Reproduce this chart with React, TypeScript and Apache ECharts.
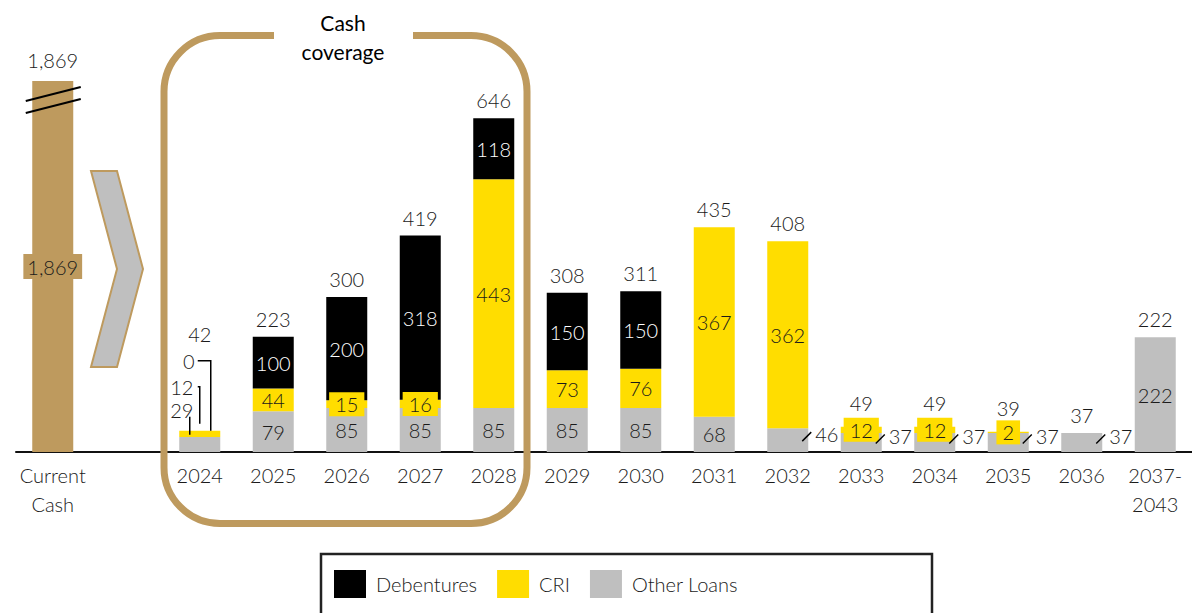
import React, { useEffect, useRef } from 'react';
import * as echarts from 'echarts';

// ---------- data ----------
const categories = ['Current\nCash', '', '2024', '2025', '2026', '2027', '2028', '2029', '2030', '2031', '2032', '2033', '2034', '2035', '2036', '2037-\n2043'];
const debentures: (number | string)[] = ['-', '-', 0, 100, 200, 318, 118, 150, 150, '-', '-', '-', '-', '-', '-', '-'];
const cri: (number | string)[] = ['-', '-', 12, 44, 15, 16, 443, 73, 76, 367, 362, 12, 12, 2, '-', '-'];
const otherLoans: (number | string)[] = ['-', '-', 29, 79, 85, 85, 85, 85, 85, 68, 46, 37, 37, 37, 37, 222];
const totals: (number | null)[] = [1869, null, 42, 223, 300, 419, 646, 308, 311, 435, 408, 49, 49, 39, 37, 222];
const currentCash = 1869;
const cashBreakValue = 718; // height at which the cash bar is drawn (broken axis)
const legendNames = ['Debentures', 'CRI', 'Other Loans'];
const coverageTitle = ['Cash', 'coverage'];

// ---------- style ----------
const FONT = 'Lato, "Open Sans", sans-serif';
const TAN = '#BE9A5E';
const YELLOW = '#FFDD00';
const GRAY = '#BFBFBF';
const BLACK = '#000000';
const TEXT = '#1a1a1a';
const FS = 20;
const FW = 300;
const sideLabelIdx = [10, 11, 12, 13, 14];
const raisedTotalIdx = [11, 12, 13];
const customIdx = 2; // 2024 annotated with leader lines
const fmt = (v: number) => v.toLocaleString('en-US');

export default function App() {
  const ref = useRef<HTMLDivElement>(null);
  useEffect(() => {
    document.body.style.margin = '0';
    const chart = echarts.init(ref.current!, null, { renderer: 'svg' });

    const baseLabel = { fontFamily: FONT, fontSize: FS, fontWeight: FW, color: TEXT };

    const cashData = categories.map((_, i) =>
      i === 0
        ? {
            value: Math.min(currentCash, cashBreakValue),
            label: {
              show: true, position: 'inside', formatter: fmt(currentCash), ...baseLabel,
              backgroundColor: TAN, padding: [3, 4, 2, 4],
            },
          }
        : '-'
    );

    const otherData = otherLoans.map((v, i) => {
      if (v === '-') return '-';
      if (i === customIdx) return { value: v, label: { show: false } };
      if (sideLabelIdx.includes(i))
        return {
          value: v,
          label: { show: true, position: ['100%', '50%'], offset: [7, -6], align: 'left', verticalAlign: 'middle', ...baseLabel },
        };
      return { value: v };
    });

    const criData = cri.map((v, i) => {
      if (v === '-') return '-';
      if (i === customIdx) return { value: v, label: { show: false } };
      if ((v as number) < 20)
        return { value: v, label: { show: true, position: 'inside', backgroundColor: YELLOW, padding: [3, 6, 1, 6], ...baseLabel } };
      return { value: v };
    });

    const debData = debentures.map((v, i) => {
      if (v === '-') return '-';
      if (i === customIdx) return { value: v, label: { show: false } };
      return { value: v };
    });

    const totalData = totals.map((t, i) => {
      if (t === null) return '-';
      return {
        value: 0,
        label: {
          show: i !== customIdx, position: 'top',
          distance: i === 0 ? 11 : raisedTotalIdx.includes(i) ? 14 : 8,
          formatter: fmt(t), ...baseLabel,
        },
      };
    });

    const option: any = {
      animation: false,
      grid: { left: 16, right: -2, top: 80, bottom: 161, containLabel: false },
      legend: {
        data: legendNames,
        left: 334, top: 570, padding: 0,
        itemWidth: 32, itemHeight: 28, itemGap: 20,
        icon: 'rect',
        textStyle: { fontFamily: FONT, fontSize: 20, fontWeight: FW, color: TEXT, padding: [0, 0, 0, 5] },
        selectedMode: false,
      },
      xAxis: {
        type: 'category',
        data: categories,
        axisLine: { show: true, lineStyle: { color: '#111', width: 2 } },
        axisTick: { show: false },
        axisLabel: { interval: 0, fontFamily: FONT, fontSize: FS, fontWeight: FW, color: TEXT, margin: 8, lineHeight: 29 },
      },
      yAxis: { type: 'value', min: 0, max: 720, show: false, splitLine: { show: false } },
      series: [
        { name: 'Cash', type: 'bar', stack: 'debt', barWidth: 41, data: cashData, itemStyle: { color: TAN } },
        {
          name: 'Other Loans', type: 'bar', stack: 'debt', barWidth: 41, data: otherData,
          itemStyle: { color: GRAY },
          label: { show: true, position: 'inside', ...baseLabel },
        },
        {
          name: 'CRI', type: 'bar', stack: 'debt', barWidth: 41, data: criData,
          itemStyle: { color: YELLOW },
          label: { show: true, position: 'inside', ...baseLabel },
        },
        {
          name: 'Debentures', type: 'bar', stack: 'debt', barWidth: 41, data: debData,
          itemStyle: { color: BLACK },
          label: { show: true, position: 'inside', ...baseLabel, color: '#ffffff' },
        },
        {
          name: 'Total', type: 'bar', stack: 'debt', barWidth: 41, data: totalData,
          itemStyle: { color: 'rgba(0,0,0,0)' },
        },
      ],
    };
    chart.setOption(option);

    const px = (i: number, v: number) => chart.convertToPixel({ gridIndex: 0 }, [i, v]) as number[];
    const graphics: any[] = [];

    // Cash coverage frame
    graphics.push({
      type: 'rect', z: 50,
      shape: { x: 164, y: 35.5, width: 363, height: 488, r: 56 },
      style: { fill: 'none', stroke: TAN, lineWidth: 7 },
    });
    graphics.push({ type: 'rect', z: 51, shape: { x: 274, y: 28, width: 139, height: 16 }, style: { fill: '#ffffff' } });
    coverageTitle.forEach((t, k) => {
      graphics.push({
        type: 'text', z: 52, x: 343, y: 22 + k * 29,
        style: { text: t, fontFamily: FONT, fontSize: 21, fill: '#000', align: 'center', verticalAlign: 'middle' },
      });
    });

    // chevron
    graphics.push({
      type: 'polygon', z: 50,
      shape: { points: [[91, 171], [117, 171], [143, 269], [117, 367], [91, 367], [117, 269]] },
      style: { fill: GRAY, stroke: TAN, lineWidth: 2 },
    });

    // break marks on cash bar
    const [ccx, ctop] = px(0, Math.min(currentCash, cashBreakValue));
    [0, 12].forEach((d) => {
      graphics.push({
        type: 'line', z: 60,
        shape: { x1: ccx - 27, y1: ctop + 20 + d, x2: ccx + 28, y2: ctop + 6 + d },
        style: { stroke: '#000', lineWidth: 2 },
      });
    });

    // 2024 annotations
    const sum24 = (otherLoans[customIdx] as number) + (cri[customIdx] as number) + (debentures[customIdx] as number);
    const [cx24, top24] = px(customIdx, sum24);
    const t = (text: string, x: number, y: number) => ({
      type: 'text', z: 60, x, y,
      style: { text, fontFamily: FONT, fontSize: FS, fontWeight: FW, fill: TEXT, align: 'center', verticalAlign: 'middle' },
    });
    graphics.push(t(String(totals[customIdx]), cx24, top24 - 97));
    graphics.push(t(String(debentures[customIdx]), cx24 - 11, top24 - 70));
    graphics.push(t(String(cri[customIdx]), cx24 - 18, top24 - 44));
    graphics.push(t(String(otherLoans[customIdx]), cx24 - 18, top24 - 21));
    const pl = (pts: number[][]) => ({ type: 'polyline', z: 60, shape: { points: pts }, style: { stroke: '#000', lineWidth: 1.5, fill: 'none' } });
    graphics.push(pl([[cx24 - 2, top24 - 70], [cx24 + 11, top24 - 70], [cx24 + 11, top24]]));
    graphics.push(pl([[cx24 - 2, top24 - 44], [cx24, top24 - 44], [cx24, top24 - 7]]));
    graphics.push(pl([[cx24 - 10, top24 - 14], [cx24 - 10, top24 + 4]]));

    // slashes for side labels
    sideLabelIdx.forEach((i) => {
      const v = otherLoans[i] as number;
      const [cx, ty] = px(i, v);
      const [, by] = px(i, 0);
      const ly = (ty + by) / 2 - 6;
      const right = cx + 20.5;
      graphics.push({
        type: 'line', z: 60,
        shape: { x1: right - 6, y1: ly + 7, x2: right + 3, y2: ly - 2 },
        style: { stroke: '#000', lineWidth: 1.5 },
      });
    });

    // legend frame
    graphics.push({
      type: 'rect', z: 10,
      shape: { x: 321, y: 554, width: 611, height: 80 },
      style: { fill: 'none', stroke: '#222', lineWidth: 2.5 },
    });

    chart.setOption({ graphic: graphics });
    return () => chart.dispose();
  }, []);
  return <div ref={ref} style={{ position: 'absolute', left: 0, top: 0, width: 1192, height: 613 }} />;
}
